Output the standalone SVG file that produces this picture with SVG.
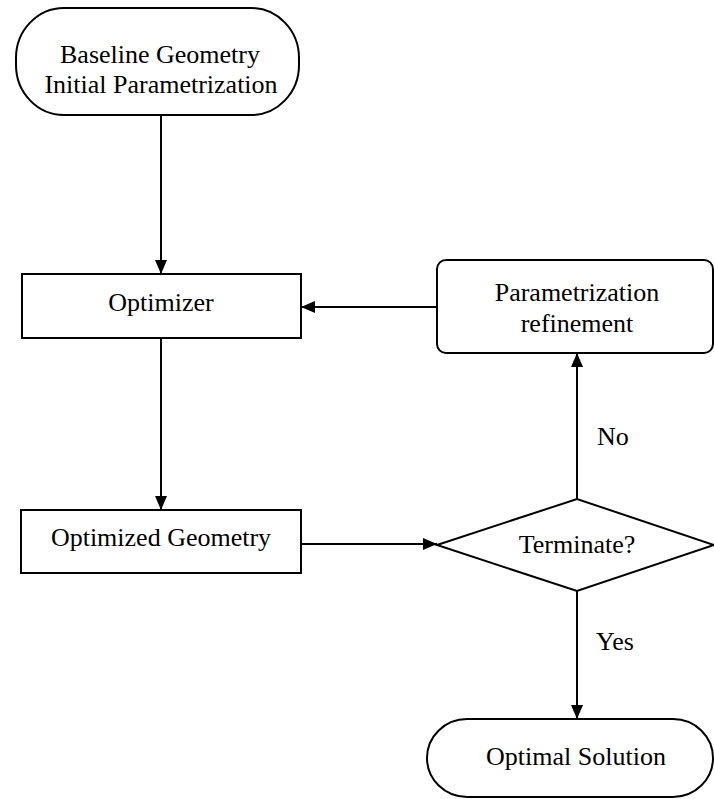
<svg xmlns="http://www.w3.org/2000/svg" width="714" height="799" viewBox="0 0 714 799">
<style>
.s{fill:#fff;stroke:#000;stroke-width:2}
text{font-family:'Liberation Serif','Times New Roman','DejaVu Serif',serif;font-size:26px;fill:#000}
.t{text-anchor:middle}
.c{stroke:#000;stroke-width:2;fill:none;marker-end:url(#a)}
</style>
<defs>
<marker id="a" markerWidth="14" markerHeight="12" refX="14" refY="6" orient="auto" markerUnits="userSpaceOnUse">
<path d="M0,0 L14,6 L0,12 Z" fill="#000"/>
</marker>
</defs>
<rect width="714" height="799" fill="#fff"/>
<g id="connectors">
<line class="c" x1="161" y1="115" x2="161" y2="274"/>
<line class="c" x1="161" y1="338" x2="161" y2="510"/>
<line class="c" x1="301" y1="544" x2="437" y2="544"/>
<line class="c" x1="577" y1="499" x2="577" y2="353"/>
<line class="c" x1="437" y1="307" x2="301" y2="307"/>
<line class="c" x1="577" y1="591" x2="577" y2="719"/>
<text font-family="Liberation Serif, serif" x="597" y="445">No</text>
<text font-family="Liberation Serif, serif" x="596" y="650">Yes</text>
</g>
<g id="start">
<rect class="s" x="16" y="8" width="283" height="107" rx="48" ry="50"/>
<text class="t" font-family="Liberation Serif, serif" x="160" y="63">Baseline Geometry</text>
<text class="t" font-family="Liberation Serif, serif" x="161" y="93">Initial Parametrization</text>
</g>
<g id="optimizer">
<rect class="s" x="22" y="274" width="279" height="64"/>
<text class="t" font-family="Liberation Serif, serif" x="161" y="311">Optimizer</text>
</g>
<g id="refinement">
<rect class="s" x="437" y="260" width="276" height="93" rx="9" ry="9"/>
<text class="t" font-family="Liberation Serif, serif" x="577" y="301">Parametrization</text>
<text class="t" font-family="Liberation Serif, serif" x="577" y="332">refinement</text>
</g>
<g id="optimized">
<rect class="s" x="21" y="510" width="280" height="63"/>
<text class="t" font-family="Liberation Serif, serif" x="161" y="546">Optimized Geometry</text>
</g>
<g id="terminate">
<polygon class="s" points="437,545 577,499 714,545 577,591"/>
<text class="t" font-family="Liberation Serif, serif" x="577" y="553">Terminate?</text>
</g>
<g id="solution">
<rect class="s" x="427" y="719" width="286" height="78" rx="40" ry="39"/>
<text class="t" font-family="Liberation Serif, serif" x="576" y="765">Optimal Solution</text>
</g>
</svg>
